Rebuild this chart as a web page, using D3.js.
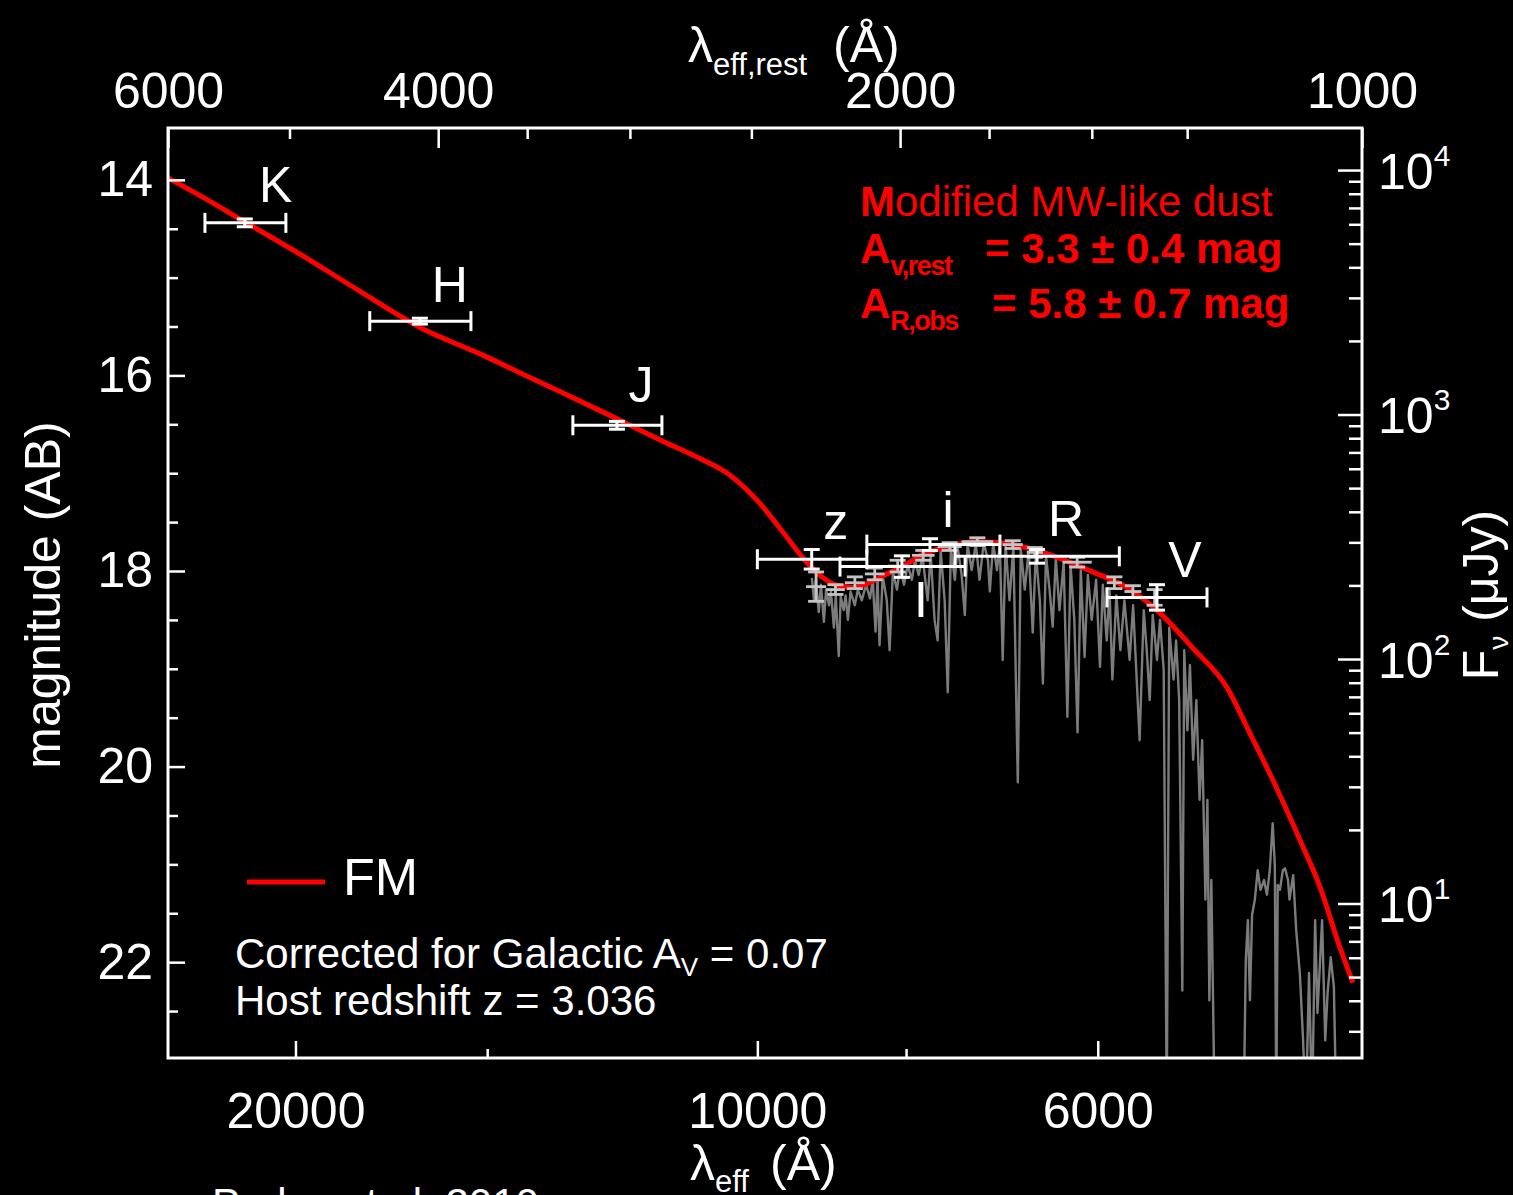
<!DOCTYPE html>
<html>
<head>
<meta charset="utf-8">
<script src="https://d3js.org/d3.v7.min.js"></script>
<style>
  body { margin: 0; background: #000; }
  svg { display: block; }
</style>
</head>
<body>
<script>
// host redshift
const zHost = 3.036;

// photometry (observed frame, Angstrom / AB mag)
const bands    = ["K", "H", "J", "z", "I", "i", "R", "V"];
const bandWave = [21580, 16595, 12346, 9217, 8050, 7718, 6573, 5490];
const bandLo   = [20290, 15370, 11540, 8485, 7322, 6949, 5809, 5093];
const bandHi   = [22910, 17890, 13190, 10000, 8834, 8485, 7434, 5918];
const bandMag  = [14.44, 15.445, 16.51, 17.88, 17.955, 17.73, 17.85, 18.27];
const bandErr  = [0.04, 0.03, 0.04, 0.10, 0.11, 0.06, 0.07, 0.13];

// FM extinction model (wave, mag)
const model = [
  [24216, 13.98], [22909, 14.19], [21580, 14.43], [19866, 14.76], [18153, 15.14],
  [16589, 15.51], [15163, 15.78], [13856, 16.07], [12663, 16.36], [11572, 16.66],
  [10900, 16.85], [10419, 17.02], [9960, 17.31], [9594, 17.63], [9311, 17.89],
  [9077, 18.06], [8901, 18.14], [8677, 18.17], [8510, 18.14], [8258, 18.04],
  [8014, 17.94], [7777, 17.82], [7549, 17.76], [7216, 17.70], [6950, 17.71],
  [6643, 17.77], [6351, 17.87], [6043, 18.01], [5742, 18.17], [5465, 18.43],
  [5201, 18.79], [4943, 19.19], [4775, 19.66], [4613, 20.14], [4430, 20.75],
  [4299, 21.23], [4172, 21.85], [4091, 22.21]
];

// afterglow spectrum (wave, mag); 23.5 = below the plot floor
const spectrum = [
  [9215,18.07],[9185,18.30],[9160,18.09],[9120,18.42],[9090,18.14],[9050,18.52],[9020,18.19],[8980,18.35],
  [8955,18.21],[8915,18.58],[8890,18.25],[8850,18.87],[8825,18.26],[8785,18.40],[8760,18.25],[8730,18.50],
  [8695,18.21],[8640,18.35],[8600,18.19],[8550,18.30],[8495,18.14],[8445,18.28],[8410,18.09],
  [8375,18.62],[8350,18.07],[8325,18.76],[8285,18.05],[8235,18.30],[8200,18.81],[8160,18.01],[8110,18.19],
  [8075,17.97],[8025,18.14],[7980,17.94],[7930,18.09],[7895,17.89],[7850,18.04],[7805,17.85],[7745,18.30],
  [7710,17.82],[7665,18.50],[7630,18.71],[7595,17.79],[7550,18.30],[7515,19.24],[7480,17.77],[7435,18.09],
  [7405,17.75],[7360,18.04],[7325,18.45],[7295,17.73],[7250,17.99],[7205,17.72],[7165,18.09],[7120,17.71],
  [7075,17.89],[7055,18.21],[7020,17.71],[6980,17.99],[6950,17.72],[6920,18.91],[6890,17.73],[6850,18.30],
  [6810,17.75],[6765,20.16],[6735,17.77],[6695,18.19],[6655,17.79],[6615,18.63],[6585,17.81],[6545,18.30],
  [6515,19.15],[6485,17.84],[6450,18.19],[6420,18.57],[6390,17.87],[6355,18.40],[6315,17.91],[6280,19.49],
  [6250,17.94],[6215,18.50],[6185,19.65],[6155,17.99],[6120,18.88],[6090,18.04],[6055,18.50],[6015,18.09],
  [5980,18.98],[5955,18.14],[5920,18.71],[5895,18.19],[5870,19.11],[5835,18.25],[5800,18.81],[5765,18.30],
  [5720,18.91],[5690,18.35],[5635,19.73],[5600,18.40],[5575,18.81],[5550,19.32],[5525,18.45],[5490,18.91],
  [5465,18.50],[5435,19.01],[5410,23.5],[5390,18.58],[5355,19.11],[5335,18.71],[5310,19.32],[5285,22.29],
  [5270,18.81],[5245,19.63],[5225,18.96],[5200,19.93],[5175,19.32],[5150,20.34],[5130,19.73],[5105,21.36],
  [5090,20.34],[5075,22.39],[5060,21.16],[5035,23.5],
  [4820,23.5],[4805,21.98],[4790,21.57],[4775,22.39],[4760,21.52],[4740,21.36],[4720,21.06],[4700,21.26],
  [4675,21.16],[4655,21.31],[4635,21.06],[4615,20.58],[4600,21.01],[4590,23.5],[4580,21.21],[4565,21.26],
  [4545,21.06],[4530,21.04],[4510,21.16],[4500,21.36],[4475,21.11],[4455,21.67],[4430,22.13],[4410,22.77],
  [4390,23.5],[4370,22.11],[4350,23.5],[4330,21.57],[4315,22.52],[4285,21.57],[4265,22.80],[4250,22.32],
  [4230,21.95],[4210,22.25],[4195,23.5]
];

// binned spectrum points
const binLo  = [9295, 9020, 8770, 8510, 8225, 7930, 7630, 7360, 6920, 6675, 6325, 5920, 5765, 5575];
const binHi  = [9020, 8770, 8510, 8262, 7980, 7665, 7360, 7020, 6715, 6515, 6055, 5785, 5620, 5445];
const binMag = [18.16, 18.19, 18.12, 18.03, 17.95, 17.84, 17.75, 17.70, 17.73, 17.81, 17.91, 18.12, 18.21, 18.27];
const binErr = [0.15, 0.05, 0.06, 0.06, 0.06, 0.05, 0.04, 0.04, 0.04, 0.05, 0.05, 0.06, 0.06, 0.08];

// ticks
const magMajor  = [14, 16, 18, 20, 22];
const magMinor  = [14.5, 15, 15.5, 16.5, 17, 17.5, 18.5, 19, 19.5, 20.5, 21, 21.5, 22.5];
const restMajor = [6000, 4000, 2000, 1000];
const restMinor = [5000, 3500, 3000, 2500, 1750, 1500, 1300];
const obsMajor  = [20000, 10000, 6000];
const obsMinor  = [15000, 8000];
const fluxMajor = [10, 100, 1000, 10000];

const W = 1513, H = 1195;
const L = 168, R = 1362, T = 128, B = 1058;
const font = '"Liberation Sans", Arial, Helvetica, sans-serif';

const x = d3.scaleLog().domain([6000 * (1 + zHost), 1000 * (1 + zHost)]).range([L, R]);
const xRest = d3.scaleLog().domain([6000, 1000]).range([L, R]);
const y = d3.scaleLinear().domain([13.47, 22.98]).range([T, B]);
const yF = d3.scaleLog()
  .domain([Math.pow(10, (23.9 - 13.47) / 2.5), Math.pow(10, (23.9 - 22.98) / 2.5)])
  .range([T, B]);

const svg = d3.select("body").append("svg")
  .attr("width", W).attr("height", H)
  .attr("font-family", font);

svg.append("rect").attr("width", W).attr("height", H).attr("fill", "#000");

svg.append("clipPath").attr("id", "plot")
  .append("rect").attr("x", L).attr("y", T).attr("width", R - L).attr("height", B - T);

const plot = svg.append("g").attr("clip-path", "url(#plot)");

// spectrum
plot.append("path")
  .datum(spectrum)
  .attr("fill", "none")
  .attr("stroke", "#7c7c7c")
  .attr("stroke-width", 2.4)
  .attr("stroke-linejoin", "round")
  .attr("d", d3.line().x(d => x(d[0])).y(d => y(d[1])));

// model
plot.append("path")
  .datum(model)
  .attr("fill", "none")
  .attr("stroke", "#ff0000")
  .attr("stroke-width", 5)
  .attr("d", d3.line().curve(d3.curveMonotoneX).x(d => x(d[0])).y(d => y(d[1])));

// binned spectrum
const bins = plot.append("g").attr("stroke", "#c4c4c4").attr("stroke-width", 2.8);
binMag.forEach((m, i) => {
  const xm = (x(binLo[i]) + x(binHi[i])) / 2;
  bins.append("line").attr("x1", x(binLo[i])).attr("x2", x(binHi[i])).attr("y1", y(m)).attr("y2", y(m));
  bins.append("line").attr("x1", xm).attr("x2", xm).attr("y1", y(m - binErr[i])).attr("y2", y(m + binErr[i]));
  [m - binErr[i], m + binErr[i]].forEach(v => {
    bins.append("line").attr("x1", xm - 8).attr("x2", xm + 8).attr("y1", y(v)).attr("y2", y(v));
  });
});

// photometry
const phot = svg.append("g").attr("stroke", "#fff").attr("stroke-width", 3);
bands.forEach((b, i) => {
  const yy = y(bandMag[i]);
  phot.append("line").attr("x1", x(bandHi[i])).attr("x2", x(bandLo[i])).attr("y1", yy).attr("y2", yy);
  [bandHi[i], bandLo[i]].forEach(w => {
    phot.append("line").attr("x1", x(w)).attr("x2", x(w)).attr("y1", yy - 10).attr("y2", yy + 10);
  });
  const xc = x(bandWave[i]);
  phot.append("line").attr("x1", xc).attr("x2", xc)
    .attr("y1", y(bandMag[i] - bandErr[i])).attr("y2", y(bandMag[i] + bandErr[i]));
  [bandMag[i] - bandErr[i], bandMag[i] + bandErr[i]].forEach(v => {
    phot.append("line").attr("x1", xc - 8).attr("x2", xc + 8).attr("y1", y(v)).attr("y2", y(v));
  });
});

// band labels, offset from each point
const labelShift = { K: [31, -21], H: [30, -19], J: [24, -23], z: [24, -20], I: [19, 50], i: [18, -18], R: [29, -20], V: [28, -20] };
svg.append("g").selectAll("text")
  .data(bands)
  .join("text")
  .attr("x", (b, i) => x(bandWave[i]) + labelShift[b][0])
  .attr("y", (b, i) => y(bandMag[i]) + labelShift[b][1])
  .attr("text-anchor", "middle")
  .attr("fill", "#fff")
  .attr("font-size", 50)
  .text(b => b);

// axes
function styleAxis(g) {
  g.attr("font-family", font).attr("font-size", 50);
  g.select(".domain").remove();
  g.selectAll(".tick line").attr("stroke", "#fff").attr("stroke-width", 2.5);
  g.selectAll(".tick text").attr("fill", "#fff");
}
const fmt = d3.format("d");

svg.append("g").attr("transform", `translate(${L},0)`)
  .call(d3.axisLeft(y).tickValues(magMajor).tickSizeInner(-17).tickSizeOuter(0).tickPadding(15).tickFormat(fmt))
  .call(styleAxis);
svg.append("g").attr("transform", `translate(${L},0)`)
  .call(d3.axisLeft(y).tickValues(magMinor).tickSizeInner(-10).tickSizeOuter(0).tickFormat(""))
  .call(styleAxis);

svg.append("g").attr("transform", `translate(0,${T})`)
  .call(d3.axisTop(xRest).tickValues(restMajor).tickSizeInner(-20).tickSizeOuter(0).tickPadding(20).tickFormat(fmt))
  .call(styleAxis);
svg.append("g").attr("transform", `translate(0,${T})`)
  .call(d3.axisTop(xRest).tickValues(restMinor).tickSizeInner(-11).tickSizeOuter(0).tickFormat(""))
  .call(styleAxis);

svg.append("g").attr("transform", `translate(0,${B})`)
  .call(d3.axisBottom(x).tickValues(obsMajor).tickSizeInner(-17).tickSizeOuter(0).tickPadding(34).tickFormat(fmt))
  .call(styleAxis);
svg.append("g").attr("transform", `translate(0,${B})`)
  .call(d3.axisBottom(x).tickValues(obsMinor).tickSizeInner(-9).tickSizeOuter(0).tickFormat(""))
  .call(styleAxis);

const fluxMinor = yF.ticks().filter(v => !fluxMajor.includes(v));
const rightMajor = svg.append("g").attr("transform", `translate(${R},0)`)
  .call(d3.axisRight(yF).tickValues(fluxMajor).tickSizeInner(-24).tickSizeOuter(0).tickFormat(""))
  .call(styleAxis);
rightMajor.selectAll(".tick").append("text")
  .attr("x", 16).attr("y", 18)
  .attr("fill", "#fff")
  .text("10")
  .append("tspan")
  .attr("font-size", 30)
  .attr("dy", -23)
  .text(d => Math.round(Math.log10(d)));
svg.append("g").attr("transform", `translate(${R},0)`)
  .call(d3.axisRight(yF).tickValues(fluxMinor).tickSizeInner(-13).tickSizeOuter(0).tickFormat(""))
  .call(styleAxis);

// frame
svg.append("rect")
  .attr("x", L).attr("y", T).attr("width", R - L).attr("height", B - T)
  .attr("fill", "none").attr("stroke", "#fff").attr("stroke-width", 3);

// axis titles
const topTitle = svg.append("text").attr("x", 688).attr("y", 62).attr("fill", "#fff").attr("font-size", 50);
topTitle.append("tspan").text("λ");
topTitle.append("tspan").attr("font-size", 31).attr("dy", 13).text("eff,rest");
topTitle.append("tspan").attr("x", 833).attr("dy", -13).text("(Å)");

const botTitle = svg.append("text").attr("x", 690).attr("y", 1180).attr("fill", "#fff").attr("font-size", 50);
botTitle.append("tspan").text("λ");
botTitle.append("tspan").attr("font-size", 31).attr("dy", 12).text("eff");
botTitle.append("tspan").attr("x", 770).attr("dy", -12).text("(Å)");

svg.append("text")
  .attr("transform", "translate(60,595) rotate(-90)")
  .attr("text-anchor", "middle")
  .attr("fill", "#fff").attr("font-size", 50)
  .text("magnitude (AB)");

const rTitle = svg.append("text")
  .attr("transform", "translate(1498,595) rotate(-90)")
  .attr("text-anchor", "middle")
  .attr("fill", "#fff").attr("font-size", 50);
rTitle.append("tspan").text("F");
rTitle.append("tspan").attr("font-size", 28).attr("dy", 10).text("ν");
rTitle.append("tspan").attr("dy", -10).text(" (μJy)");

// dust annotation
const red = "#ff0000";
const a1 = svg.append("text").attr("x", 860).attr("y", 216).attr("fill", red).attr("font-size", 42);
a1.append("tspan").attr("font-weight", "bold").text("M");
a1.append("tspan").text("odified MW-like dust");

const a2 = svg.append("text").attr("x", 860).attr("y", 263).attr("fill", red).attr("font-size", 42).attr("font-weight", "bold");
a2.append("tspan").text("A");
a2.append("tspan").attr("font-size", 27).attr("letter-spacing", -1.5).attr("dy", 12).text("v,rest");
a2.append("tspan").attr("x", 985).attr("dy", -12).text("= 3.3 ± 0.4 mag");

const a3 = svg.append("text").attr("x", 860).attr("y", 318).attr("fill", red).attr("font-size", 42).attr("font-weight", "bold");
a3.append("tspan").text("A");
a3.append("tspan").attr("font-size", 27).attr("letter-spacing", -1.5).attr("dy", 12).text("R,obs");
a3.append("tspan").attr("x", 992).attr("dy", -12).text("= 5.8 ± 0.7 mag");

// legend
svg.append("line").attr("x1", 247).attr("x2", 325).attr("y1", 882).attr("y2", 882)
  .attr("stroke", red).attr("stroke-width", 5);
svg.append("text").attr("x", 343).attr("y", 895).attr("fill", "#fff").attr("font-size", 52).text("FM");

const n1 = svg.append("text").attr("x", 235).attr("y", 968).attr("fill", "#fff").attr("font-size", 42);
n1.append("tspan").text("Corrected for Galactic A");
n1.append("tspan").attr("font-size", 26).attr("dy", 8).text("V");
n1.append("tspan").attr("dy", -8).text(" = 0.07");
svg.append("text").attr("x", 235).attr("y", 1015).attr("fill", "#fff").attr("font-size", 42)
  .text("Host redshift z = " + zHost.toFixed(3));

svg.append("text").attr("x", 212).attr("y", 1218).attr("fill", "#fff").attr("font-size", 42)
  .text("Perley et al. 2010");
</script>
</body>
</html>
